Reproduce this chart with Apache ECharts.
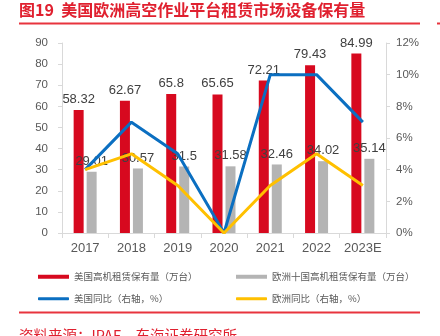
<!DOCTYPE html>
<html><head><meta charset="utf-8">
<script src="https://cdn.jsdelivr.net/npm/echarts@6/dist/echarts.min.js"></script>
<style>html,body{margin:0;padding:0;background:#fff}#c{width:440px;height:336px}</style>
</head><body><div id="c"></div>
<script>
const categories = ['2017','2018','2019','2020','2021','2022','2023E'];
const usStock = [58.32, 62.67, 65.8, 65.65, 72.21, 79.43, 84.99];
const euStock = [29.01, 30.57, 31.5, 31.58, 32.46, 34.02, 35.14];
const usYoy = [4, 7, 5, 0, 10, 10, 7];
const euYoy = [4, 5, 3, 0, 3, 5, 3];
const names = ['美国高机租赁保有量（万台）','欧洲十国高机租赁保有量（万台）','美国同比（右轴，%）','欧洲同比（右轴，%）'];
const titleText = '图19  美国欧洲高空作业平台租赁市场设备保有量';
const sourceText = '资料来源：IPAF，东海证券研究所';

const RED = '#d7091f', GRAY = '#b4b4b4', BLUE = '#0b6fc1', YELLOW = '#ffc000';
const FONT = '"Liberation Sans", Arial, "Noto Sans CJK SC", sans-serif';
const CJK = '"Noto Sans CJK SC", sans-serif';
const chart = echarts.init(document.getElementById('c'), null, {renderer:'canvas'});
const legendText = {color:'#595959', fontSize:9.5, fontFamily:CJK};
function lg(name, left, top, h, icon){
  return {data:[name], left:left, top:top, itemWidth:31, itemHeight:h, icon:icon, itemGap:0, padding:0, textStyle:legendText};
}
const barLabel = {show:true, position:'top', distance:4, color:'#404040', fontSize:13, fontFamily:FONT};
chart.setOption({
  animation:false,
  title:{text:titleText, left:19, top:2, padding:0, textStyle:{color:'#e0202f', fontSize:16, fontWeight:'bold', fontFamily:CJK}},
  graphic:[
    {type:'rect', shape:{x:19, y:22.5, width:401, height:2}, style:{fill:'#e8343e'}},
    {type:'rect', shape:{x:437, y:22.5, width:3, height:2}, style:{fill:'#e8343e'}},
    {type:'rect', shape:{x:19, y:311.5, width:401, height:2}, style:{fill:'#e8343e'}},
    {type:'text', left:19, top:328, style:{text:sourceText, fill:'#e0202f', font:'14.5px "Noto Sans CJK SC", sans-serif'}}
  ],
  legend:[
    lg(names[0], 38, 272, 4, 'rect'),
    lg(names[1], 236, 272, 4, 'rect'),
    lg(names[2], 38, 294, 3, 'roundRect'),
    lg(names[3], 236, 294, 3, 'roundRect')
  ],
  grid:{left:62, right:54, top:43, bottom:103},
  xAxis:{type:'category', data:categories,
    axisLine:{lineStyle:{color:'#d9d9d9', width:1}},
    axisTick:{show:true, length:5, lineStyle:{color:'#d9d9d9'}},
    axisLabel:{color:'#595959', fontSize:13, margin:9, interval:0, fontFamily:FONT}},
  yAxis:[
    {type:'value', min:0, max:90, interval:10,
      axisLine:{show:true, lineStyle:{color:'#d9d9d9'}},
      axisTick:{show:true, length:4, lineStyle:{color:'#d9d9d9'}},
      splitLine:{show:false},
      axisLabel:{color:'#595959', fontSize:11.5, margin:14, fontFamily:FONT}},
    {type:'value', min:0, max:12, interval:2, position:'right',
      axisLine:{show:true, lineStyle:{color:'#d9d9d9'}},
      axisTick:{show:true, length:4, lineStyle:{color:'#d9d9d9'}},
      splitLine:{show:false},
      axisLabel:{color:'#595959', fontSize:11.5, margin:10, formatter:'{value}%', fontFamily:FONT}}
  ],
  series:[
    {name:names[0], type:'bar', data:usStock, barWidth:10, barGap:'30%', itemStyle:{color:RED}, label:barLabel, z:2},
    {name:names[1], type:'bar', data:euStock, barWidth:10, barGap:'30%', itemStyle:{color:GRAY}, label:barLabel, z:2},
    {name:names[2], type:'line', yAxisIndex:1, data:usYoy, symbol:'none', lineStyle:{color:BLUE, width:3}, itemStyle:{color:BLUE}, z:10},
    {name:names[3], type:'line', yAxisIndex:1, data:euYoy, symbol:'none', lineStyle:{color:YELLOW, width:3}, itemStyle:{color:YELLOW}, z:10}
  ]
});
</script></body></html>
